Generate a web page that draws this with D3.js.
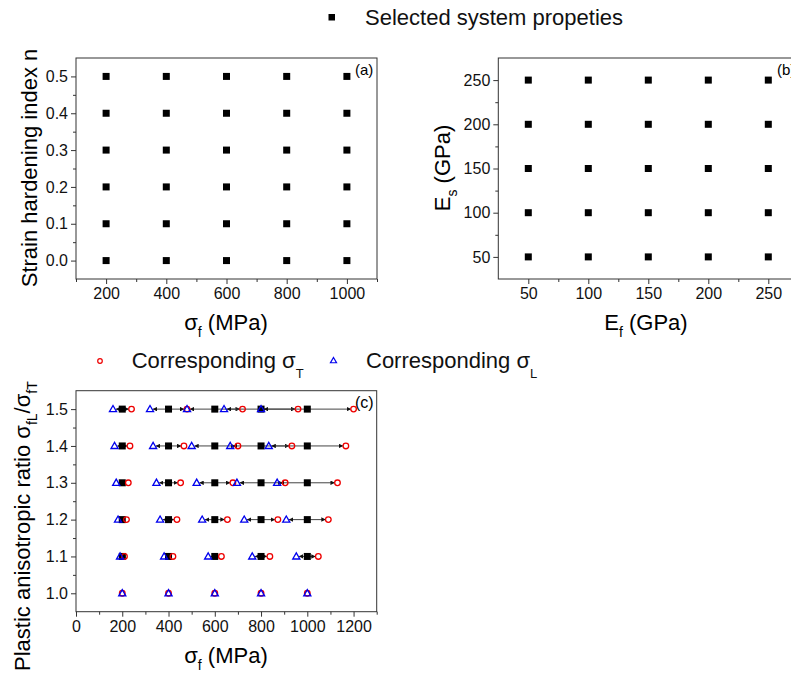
<!DOCTYPE html>
<html>
<head>
<meta charset="utf-8">
<script src="https://cdn.jsdelivr.net/npm/d3@7"></script>
<style>
  html, body { margin: 0; padding: 0; background: #fff; }
  svg { display: block; font-family: "Liberation Sans", Arial, sans-serif; }
  .tick text { font-size: 16px; fill: #111; }
  .tick line { stroke: #333; }
</style>
</head>
<body>
<svg id="chart" width="791" height="675"></svg>
<script>
// Panel (a): flow stress vs strain hardening index grid
const aSigmaF = [200, 400, 600, 800, 1000];
const aHardening = [0.0, 0.1, 0.2, 0.3, 0.4, 0.5];

// Panel (b): film modulus vs substrate modulus grid
const bEf = [50, 100, 150, 200, 250];
const bEs = [50, 100, 150, 200, 250];

// Panel (c): anisotropy ratio rows, equivalent flow stress and the
// corresponding transverse / longitudinal stresses (MPa)
const cRatio = [1.0, 1.1, 1.2, 1.3, 1.4, 1.5];
const cSigmaF = [200, 400, 600, 800, 1000];
const cSigmaT = [
  [200, 400, 600, 800, 1000],
  [209.5, 419, 628.6, 838.1, 1047.6],
  [218.2, 436.4, 654.5, 872.7, 1090.9],
  [226.1, 452.2, 678.3, 904.3, 1130.4],
  [233.3, 466.7, 700, 933.3, 1166.7],
  [240, 480, 720, 960, 1200]
];
const cSigmaL = [
  [200, 400, 600, 800, 1000],
  [190.5, 381, 571.4, 761.9, 952.4],
  [181.8, 363.6, 545.5, 727.3, 909.1],
  [173.9, 347.8, 521.7, 695.7, 869.6],
  [166.7, 333.3, 500, 666.7, 833.3],
  [160, 320, 480, 640, 800]
];

// Tick values
const aXTicks = [200, 400, 600, 800, 1000];
const aYTicks = [0.0, 0.1, 0.2, 0.3, 0.4, 0.5];
const bXTicks = [50, 100, 150, 200, 250];
const bYTicks = [50, 100, 150, 200, 250];
const cXTicks = [0, 200, 400, 600, 800, 1000, 1200];
const cYTicks = [1.0, 1.1, 1.2, 1.3, 1.4, 1.5];

const svg = d3.select("#chart");
svg.append("rect").attr("width", 791).attr("height", 675).attr("fill", "#fff");

const defs = svg.append("defs");
defs.append("marker")
  .attr("id", "arrow")
  .attr("viewBox", "0 0 10 10")
  .attr("refX", 9).attr("refY", 5)
  .attr("markerWidth", 4.5).attr("markerHeight", 4.5)
  .attr("markerUnits", "userSpaceOnUse")
  .attr("orient", "auto")
  .append("path").attr("d", "M0,0L10,5L0,10Z").attr("fill", "#111");

// Draws a framed panel with major/minor ticks on left and bottom
function panel(cfg) {
  const g = svg.append("g");
  const x = d3.scaleLinear().domain(cfg.xDomain).range(cfg.xRange);
  const y = d3.scaleLinear().domain(cfg.yDomain).range(cfg.yRange);
  const [x0, x1] = cfg.xRange, [y0, y1] = cfg.yRange;

  const xMajor = d3.axisBottom(x).tickValues(cfg.xTicks).tickSize(5).tickSizeOuter(0)
    .tickPadding(4).tickFormat(cfg.xFormat || d3.format("d"));
  const xMinor = d3.axisBottom(x).tickValues(cfg.xMinor).tickSize(3).tickSizeOuter(0).tickFormat("");
  const yMajor = d3.axisLeft(y).tickValues(cfg.yTicks).tickSize(5).tickSizeOuter(0)
    .tickPadding(3).tickFormat(cfg.yFormat || d3.format("d"));
  const yMinor = d3.axisLeft(y).tickValues(cfg.yMinor).tickSize(3).tickSizeOuter(0).tickFormat("");

  [xMinor, xMajor].forEach(ax => {
    const a = g.append("g").attr("transform", `translate(0,${y0})`).call(ax);
    a.select(".domain").remove();
  });
  [yMinor, yMajor].forEach(ax => {
    const a = g.append("g").attr("transform", `translate(${x0},0)`).call(ax);
    a.select(".domain").remove();
  });
  g.selectAll(".tick text").attr("font-size", 16).attr("fill", "#111");

  g.append("rect")
    .attr("x", x0).attr("y", y1)
    .attr("width", x1 - x0).attr("height", y0 - y1)
    .attr("fill", "none").attr("stroke", "#333").attr("stroke-width", 1);

  return { g, x, y };
}

function squares(g, pts, x, y, size) {
  g.append("g").selectAll("rect").data(pts).join("rect")
    .attr("x", d => x(d[0]) - size / 2)
    .attr("y", d => y(d[1]) - size / 2)
    .attr("width", size).attr("height", size)
    .attr("fill", "#000");
}

// Adds text with sub-scripted runs; parts = [[text, isSub], ...]
function richText(sel, parts, size, subSize, subShift) {
  parts.forEach(([t, sub], i) => {
    const ts = sel.append("tspan").text(t);
    if (sub) {
      ts.attr("font-size", subSize).attr("dy", subShift);
    } else {
      ts.attr("font-size", size);
      const prevSub = i > 0 && parts[i - 1][1];
      if (prevSub) ts.attr("dy", -subShift);
    }
  });
  return sel;
}

// ---------- Panel (a) ----------
const A = panel({
  xDomain: [100, 1100], xRange: [76, 377],
  yDomain: [-0.05, 0.55], yRange: [279, 58],
  xTicks: aXTicks, xMinor: d3.range(100, 1101, 200),
  yTicks: aYTicks, yMinor: [0.05, 0.15, 0.25, 0.35, 0.45],
  yFormat: d3.format(".1f")
});
squares(A.g, d3.cross(aSigmaF, aHardening), A.x, A.y, 7);
A.g.append("text").attr("x", 355).attr("y", 75).attr("font-size", 15).text("(a)");
richText(A.g.append("text").attr("x", 226).attr("y", 330).attr("text-anchor", "middle"),
  [["σ", false], ["f", true], [" (MPa)", false]], 22, 14, 7);
A.g.append("text")
  .attr("transform", "rotate(-90)")
  .attr("x", -168).attr("y", 37)
  .attr("text-anchor", "middle").attr("font-size", 22)
  .text("Strain hardening index n");

// ---------- Panel (b) ----------
const B = panel({
  xDomain: [25, 275], xRange: [498.3, 798.3],
  yDomain: [25, 275], yRange: [279, 58],
  xTicks: bXTicks, xMinor: [75, 125, 175, 225],
  yTicks: bYTicks, yMinor: [75, 125, 175, 225]
});
squares(B.g, d3.cross(bEf, bEs), B.x, B.y, 7);
B.g.append("text").attr("x", 777).attr("y", 75).attr("font-size", 15).text("(b)");
richText(B.g.append("text").attr("x", 646).attr("y", 330).attr("text-anchor", "middle"),
  [["E", false], ["f", true], [" (GPa)", false]], 22, 14, 7);
richText(B.g.append("text")
  .attr("transform", "rotate(-90)")
  .attr("x", -168).attr("y", 450)
  .attr("text-anchor", "middle"),
  [["E", false], ["s", true], [" (GPa)", false]], 22, 14, 7);

// ---------- Panel (c) ----------
const C = panel({
  xDomain: [0, 1300], xRange: [76, 376.7],
  yDomain: [0.95, 1.55], yRange: [611.7, 390.7],
  xTicks: cXTicks, xMinor: d3.range(100, 1301, 200),
  yTicks: cYTicks, yMinor: [1.05, 1.15, 1.25, 1.35, 1.45],
  yFormat: d3.format(".1f")
});

const cPoints = [];
cRatio.forEach((r, i) => cSigmaF.forEach((s, j) => {
  cPoints.push({ r, s, t: cSigmaT[i][j], l: cSigmaL[i][j] });
}));

// arrows from each flow stress to its transverse and longitudinal values
const arrows = C.g.append("g");
const gap = 3;
cPoints.filter(p => p.t !== p.s).forEach(p => {
  const yy = C.y(p.r);
  arrows.append("line")
    .attr("x1", C.x(p.s)).attr("y1", yy)
    .attr("x2", C.x(p.t) - gap).attr("y2", yy)
    .attr("stroke", "#444").attr("stroke-width", 1)
    .attr("marker-end", "url(#arrow)");
  arrows.append("line")
    .attr("x1", C.x(p.s)).attr("y1", yy)
    .attr("x2", C.x(p.l) + gap).attr("y2", yy)
    .attr("stroke", "#444").attr("stroke-width", 1)
    .attr("marker-end", "url(#arrow)");
});

squares(C.g, cPoints.filter(p => p.r !== 1.0).map(p => [p.s, p.r]), C.x, C.y, 7);

C.g.append("g").selectAll("circle").data(cPoints).join("circle")
  .attr("cx", d => C.x(d.t)).attr("cy", d => C.y(d.r)).attr("r", 2.8)
  .attr("fill", "none").attr("stroke", "#e00").attr("stroke-width", 1.3);

const tri = d3.symbol().type(d3.symbolTriangle).size(22);
C.g.append("g").selectAll("path").data(cPoints).join("path")
  .attr("d", tri)
  .attr("transform", d => `translate(${C.x(d.l)},${C.y(d.r) + 0.5})`)
  .attr("fill", "none").attr("stroke", "#00e").attr("stroke-width", 1.3);

C.g.append("text").attr("x", 355).attr("y", 408).attr("font-size", 16).text("(c)");
richText(C.g.append("text").attr("x", 226).attr("y", 663).attr("text-anchor", "middle"),
  [["σ", false], ["f", true], [" (MPa)", false]], 22, 14, 7);
richText(C.g.append("text")
  .attr("transform", "rotate(-90)")
  .attr("x", -671).attr("y", 30)
  .attr("text-anchor", "start"),
  [["Plastic anisotropic ratio σ", false], ["fL", true], ["/σ", false], ["fT", true]], 22, 14, 7);

// ---------- Legends ----------
const leg = svg.append("g").attr("font-size", 22).attr("fill", "#111");
leg.append("rect").attr("x", 328.5).attr("y", 14).attr("width", 6.5).attr("height", 6.5).attr("fill", "#000");
leg.append("text").attr("x", 365).attr("y", 25).text("Selected system propeties");

leg.append("circle").attr("cx", 100).attr("cy", 361).attr("r", 2.3)
  .attr("fill", "none").attr("stroke", "#e00").attr("stroke-width", 1.2);
richText(leg.append("text").attr("x", 131.7).attr("y", 368),
  [["Corresponding σ", false], ["T", true]], 22, 13, 10);

leg.append("path").attr("d", d3.symbol().type(d3.symbolTriangle).size(16))
  .attr("transform", "translate(333.5,361)")
  .attr("fill", "none").attr("stroke", "#00e").attr("stroke-width", 1.2);
richText(leg.append("text").attr("x", 366).attr("y", 368),
  [["Corresponding σ", false], ["L", true]], 22, 13, 10);
</script>
</body>
</html>
